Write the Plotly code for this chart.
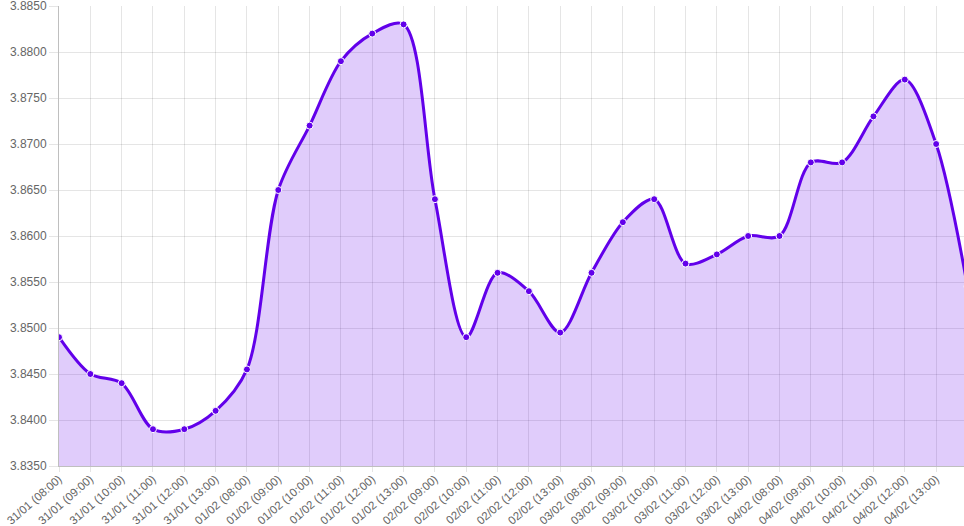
import plotly.graph_objects as go

labels = [
    "31/01 (08:00)", "31/01 (09:00)", "31/01 (10:00)", "31/01 (11:00)", "31/01 (12:00)", "31/01 (13:00)",
    "01/02 (08:00)", "01/02 (09:00)", "01/02 (10:00)", "01/02 (11:00)", "01/02 (12:00)", "01/02 (13:00)",
    "02/02 (09:00)", "02/02 (10:00)", "02/02 (11:00)", "02/02 (12:00)", "02/02 (13:00)",
    "03/02 (08:00)", "03/02 (09:00)", "03/02 (10:00)", "03/02 (11:00)", "03/02 (12:00)", "03/02 (13:00)",
    "04/02 (08:00)", "04/02 (09:00)", "04/02 (10:00)", "04/02 (11:00)", "04/02 (12:00)", "04/02 (13:00)",
    "04/02 (14:00)",
]
values = [
    3.8490, 3.8450, 3.8440, 3.8390, 3.8390, 3.8410,
    3.8455, 3.8650, 3.8720, 3.8790, 3.8820, 3.8830,
    3.8640, 3.8490, 3.8560, 3.8540, 3.8495,
    3.8560, 3.8615, 3.8640, 3.8570, 3.8580, 3.8600,
    3.8600, 3.8680, 3.8680, 3.8730, 3.8770, 3.8700,
    3.8545,
]
y_ticks = [round(3.835 + 0.005 * i, 4) for i in range(11)]

fig = go.Figure()
fig.add_trace(go.Scatter(
    x=labels, y=values, mode="lines+markers",
    line=dict(color="#6200EA", width=3, shape="spline", smoothing=0.9),
    marker=dict(color="#6200EA", size=7, line=dict(color="white", width=1)),
    fill="tozeroy", fillcolor="rgba(98,0,234,0.2)",
    showlegend=False,
))

font = "Liberation Sans, Arial, sans-serif"
fig.update_layout(
    width=964, height=526,
    margin=dict(l=59, r=0, t=6, b=60),
    plot_bgcolor="white", paper_bgcolor="white",
    font=dict(family=font, size=12, color="#666"),
)
fig.update_xaxes(
    type="category", range=[0, 28.89], automargin=False,
    tickangle=-41, tickfont=dict(size=11.5, color="#666"),
    ticklabelstandoff=-4,
    showgrid=True, gridcolor="rgba(0,0,0,0.1)", gridwidth=1,
    ticks="outside", ticklen=5, tickcolor="rgba(0,0,0,0.1)",
    showline=True, linecolor="rgba(0,0,0,0.25)", linewidth=1,
    zeroline=False,
)
fig.update_yaxes(
    range=[3.835, 3.885], tickvals=y_ticks, automargin=False,
    ticktext=[f"{v:.4f}" for v in y_ticks],
    tickfont=dict(size=12, color="#666"),
    ticklabeloverflow="allow",
    showgrid=True, gridcolor="rgba(0,0,0,0.1)", gridwidth=1,
    ticks="outside", ticklen=9, tickcolor="rgba(0,0,0,0.1)",
    showline=True, linecolor="rgba(0,0,0,0.25)", linewidth=1,
    zeroline=False,
)

fig.write_html("out.html")
